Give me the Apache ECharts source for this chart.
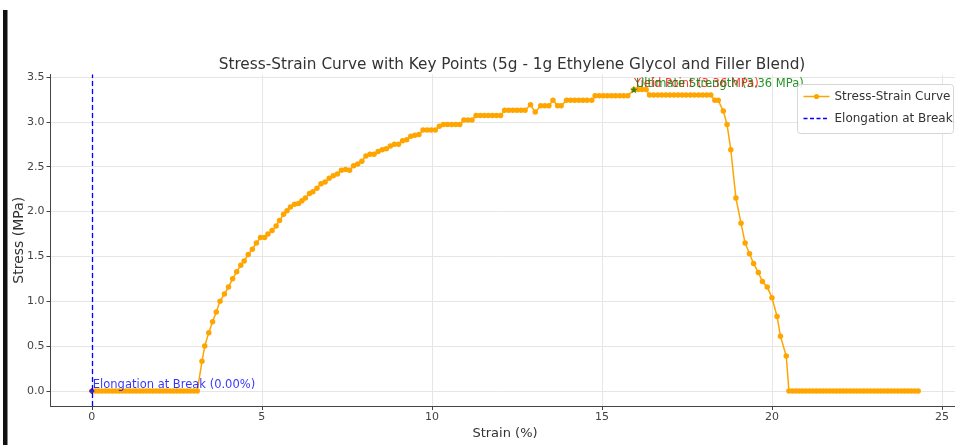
<!DOCTYPE html>
<html>
<head>
<meta charset="utf-8">
<script src="https://cdn.jsdelivr.net/npm/echarts@6/dist/echarts.min.js"></script>
<style>html,body{margin:0;padding:0;background:#fff;}#c{width:955px;height:445px;}</style>
</head>
<body>
<div id="c"></div>
<script>
const strain = [
  0.0,0.1,0.2,0.3,0.4,0.5,0.6,0.7,0.8,0.9,1.0,1.1,1.2,1.3,1.4,1.5,1.6,1.7,1.8,1.9,2.0,2.1,2.2,2.3,2.4,2.5,2.6,2.7,2.8,2.9,3.0,3.1,
  3.24,3.32,3.44,3.55,3.66,3.77,3.90,4.02,4.14,4.26,4.38,4.48,4.60,4.72,4.84,4.96,5.08,5.18,5.30,5.42,5.52,5.64,5.74,5.84,5.96,
  6.08,6.18,6.28,6.40,6.50,6.62,6.74,6.86,6.98,7.10,7.22,7.34,7.46,7.58,7.70,7.82,7.94,8.06,8.18,8.30,8.42,8.54,8.66,8.78,8.90,
  9.02,9.14,9.26,9.38,9.50,9.62,9.74,9.86,9.98,10.10,10.22,10.34,10.46,10.58,10.70,10.82,10.94,11.06,11.18,11.30,11.42,11.54,
  11.66,11.78,11.90,12.02,12.14,12.26,12.38,12.50,12.62,12.74,12.90,13.04,13.20,13.32,13.44,13.56,13.70,13.80,13.96,14.08,14.20,
  14.32,14.44,14.56,14.70,14.80,14.92,15.04,15.16,15.28,15.40,15.52,15.64,15.76,15.94,16.06,16.18,16.30,
  16.40,16.52,16.64,16.76,16.88,17.00,17.12,17.24,17.36,17.48,17.60,17.72,17.84,17.96,18.08,18.20,
  18.32,18.42,18.57,18.68,18.79,18.94,19.09,19.21,19.34,19.46,19.60,19.72,19.86,20.00,20.15,20.25,20.42,
  20.50,20.6,20.7,20.8,20.9,21.0,21.1,21.2,21.3,21.4,21.5,21.6,21.7,21.8,21.9,22.0,22.1,22.2,22.3,22.4,22.5,22.6,22.7,22.8,22.9,
  23.0,23.1,23.2,23.3,23.4,23.5,23.6,23.7,23.8,23.9,24.0,24.1,24.2,24.3
];
const stress = [
  0,0,0,0,0,0,0,0,0,0,0,0,0,0,0,0,0,0,0,0,0,0,0,0,0,0,0,0,0,0,0,0,
  0.33,0.50,0.65,0.77,0.88,1.00,1.08,1.16,1.25,1.33,1.40,1.45,1.52,1.58,1.65,1.71,1.71,1.75,1.79,1.84,1.90,1.97,2.01,2.05,2.08,
  2.09,2.12,2.15,2.20,2.22,2.26,2.31,2.33,2.37,2.40,2.42,2.46,2.47,2.46,2.51,2.53,2.56,2.62,2.64,2.64,2.67,2.69,2.70,2.73,2.75,
  2.75,2.79,2.80,2.84,2.85,2.86,2.91,2.91,2.91,2.91,2.95,2.97,2.97,2.97,2.97,2.97,3.02,3.02,3.02,3.07,3.07,3.07,
  3.07,3.07,3.07,3.07,3.13,3.13,3.13,3.13,3.13,3.13,3.19,3.11,3.18,3.18,3.18,3.24,3.18,3.18,3.24,3.24,3.24,
  3.24,3.24,3.24,3.24,3.29,3.29,3.29,3.29,3.29,3.29,3.29,3.29,3.29,3.36,3.36,3.36,3.36,
  3.30,3.30,3.30,3.30,3.30,3.30,3.30,3.30,3.30,3.30,3.30,3.30,3.30,3.30,3.30,3.30,
  3.24,3.24,3.12,2.97,2.69,2.15,1.87,1.65,1.53,1.42,1.32,1.22,1.16,1.04,0.83,0.61,0.39,
  0,0,0,0,0,0,0,0,0,0,0,0,0,0,0,0,0,0,0,0,0,0,0,0,0,
  0,0,0,0,0,0,0,0,0,0,0,0,0,0
];
const xTicks = [0, 5, 10, 15, 20, 25];
const yTicks = [0.0, 0.5, 1.0, 1.5, 2.0, 2.5, 3.0, 3.5];
const breakPoint = [0, 0];
const yieldPoint = [15.94, 3.36];
const ultimatePoint = [15.94, 3.36];
const titleText = 'Stress-Strain Curve with Key Points (5g - 1g Ethylene Glycol and Filler Blend)';
const legendNames = ['Stress-Strain Curve', 'Elongation at Break'];

const curve = strain.map((s, i) => [s, stress[i]]);
const FONT = 'DejaVu Sans';
const ORANGE = '#FFA500', BLUE = '#0000ff';
const chart = echarts.init(document.getElementById('c'), null, {renderer: 'canvas'});
const gridColor = '#e6e6e6';
const star = 'path://M50,0 L61,35 L98,35 L68,57 L79,91 L50,70 L21,91 L32,57 L2,35 L39,35 Z';

const legendGroup = {
  type: 'group', left: 797, top: 84,
  children: [
    {type: 'rect', shape: {x: 0, y: 0, width: 156, height: 49, r: 3},
      style: {fill: 'rgba(255,255,255,0.85)', stroke: '#d6d6d6', lineWidth: 1}, z: 10},
    {type: 'line', shape: {x1: 6, y1: 12, x2: 32, y2: 12}, style: {stroke: ORANGE, lineWidth: 1.5}, z: 11},
    {type: 'circle', shape: {cx: 19, cy: 12, r: 2.6}, style: {fill: ORANGE}, z: 11},
    {type: 'text', x: 37, y: 12, style: {text: legendNames[0], fontFamily: FONT, fontSize: 12, fill: '#333', verticalAlign: 'middle'}, z: 11},
    {type: 'line', shape: {x1: 6, y1: 34, x2: 32, y2: 34}, style: {stroke: BLUE, lineWidth: 1.5, lineDash: [4, 2.5]}, z: 11},
    {type: 'text', x: 37, y: 34, style: {text: legendNames[1], fontFamily: FONT, fontSize: 12, fill: '#333', verticalAlign: 'middle'}, z: 11}
  ]
};

chart.setOption({
  animation: false,
  backgroundColor: '#fff',
  title: {
    text: titleText, left: 507, top: 53, textAlign: 'center',
    textStyle: {fontFamily: FONT, fontSize: 15.3, fontWeight: 'normal', color: '#333'}
  },
  graphic: [
    {type: 'rect', shape: {x: 3, y: 10, width: 4.5, height: 435}, style: {fill: '#111'}},
    legendGroup
  ],
  grid: {left: 50.5, top: 74.5, width: 909, height: 331.5, containLabel: false, outerBoundsMode: 'none'},
  xAxis: {
    type: 'value', min: -1.215, max: 25.515,
    name: 'Strain (%)', nameLocation: 'middle', nameGap: 21, nameMoveOverlap: false,
    nameTextStyle: {fontFamily: FONT, fontSize: 13, color: '#333'},
    axisLine: {show: true, onZero: false, lineStyle: {color: '#444', width: 1}},
    axisTick: {show: true, customValues: xTicks, length: 4, lineStyle: {color: '#444'}},
    axisLabel: {customValues: xTicks, fontFamily: FONT, fontSize: 11, color: '#444', margin: 6},
    splitLine: {show: true, lineStyle: {color: gridColor, width: 1}}
  },
  yAxis: {
    type: 'value', min: -0.168, max: 3.528,
    name: 'Stress (MPa)', nameLocation: 'middle', nameGap: 24, nameMoveOverlap: false,
    nameTextStyle: {fontFamily: FONT, fontSize: 14, color: '#333'},
    axisLine: {show: true, onZero: false, lineStyle: {color: '#444', width: 1}},
    axisTick: {show: true, customValues: yTicks, length: 4, lineStyle: {color: '#444'}},
    axisLabel: {customValues: yTicks, fontFamily: FONT, fontSize: 11, color: '#444', margin: 6,
      formatter: v => v.toFixed(1)},
    splitLine: {show: true, lineStyle: {color: gridColor, width: 1}}
  },
  series: [
    {
      name: legendNames[0], type: 'line', data: curve,
      symbol: 'circle', symbolSize: 5.5, showSymbol: true,
      lineStyle: {color: ORANGE, width: 1.5},
      itemStyle: {color: ORANGE},
      z: 3
    },
    {
      name: legendNames[1], type: 'line', data: [], symbol: 'none',
      lineStyle: {color: BLUE, width: 1.5, type: [4, 3]},
      markLine: {
        silent: true, symbol: ['none', 'none'], label: {show: false},
        lineStyle: {color: BLUE, width: 1.3, type: [5, 3]},
        data: [{xAxis: breakPoint[0]}]
      },
      z: 4
    },
    {
      name: 'break', type: 'scatter', data: [breakPoint], symbol: 'diamond', symbolSize: 6,
      itemStyle: {color: BLUE}, z: 5,
      label: {show: true, position: 'right', distance: 0, offset: [-2, -6],
        formatter: 'Elongation at Break (' + breakPoint[0].toFixed(2) + '%)',
        fontFamily: FONT, fontSize: 11.5, color: BLUE}
    },
    {
      name: 'yield', type: 'scatter', data: [yieldPoint], symbol: 'circle', symbolSize: 0,
      z: 5,
      label: {show: true, position: 'right', distance: 0, offset: [0, -6],
        formatter: 'Yield Point (' + yieldPoint[1].toFixed(2) + ' MPa)',
        fontFamily: FONT, fontSize: 11.5, color: '#ff0000'}
    },
    {
      name: 'ultimate', type: 'scatter', data: [ultimatePoint], symbol: star, symbolSize: 8,
      itemStyle: {color: '#008000'}, z: 6,
      label: {show: true, position: 'right', distance: 0, offset: [-2, -6],
        formatter: 'Ultimate Strength (' + ultimatePoint[1].toFixed(2) + ' MPa)',
        fontFamily: FONT, fontSize: 11.5, color: '#008000', opacity: 0.85}
    }
  ]
});
</script>
</body>
</html>
